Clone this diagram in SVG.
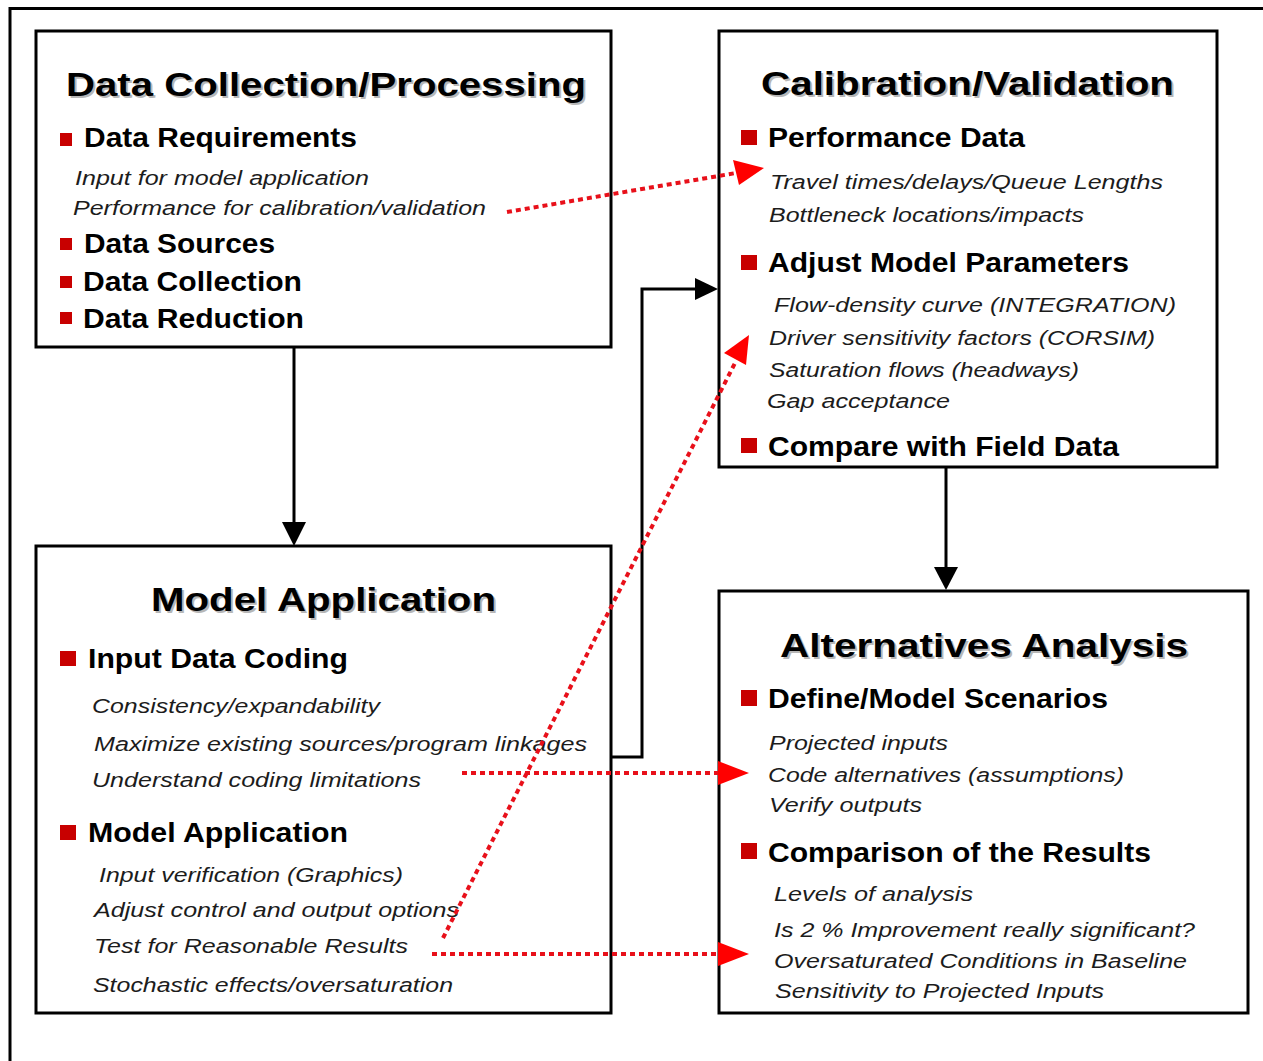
<svg xmlns="http://www.w3.org/2000/svg" width="1263" height="1061" viewBox="0 0 1263 1061">
  <style>
    text { font-family: "Liberation Sans", Arial, sans-serif; }
    .title { font-size: 33px; font-weight: bold; fill: #000; }
    .shadow { font-size: 33px; font-weight: bold; fill: #9a9a9a; opacity: 0.7; }
    .head { font-size: 27px; font-weight: bold; fill: #000; }
    .item { font-size: 20px; font-style: italic; fill: #1c1c1c; }
    .box { fill: #fff; stroke: #000; stroke-width: 3; }
    .bul { fill: #c80000; }
    .flow { fill: none; stroke: #000; stroke-width: 3; }
    .dot { fill: none; stroke: #e8101a; stroke-width: 4; stroke-dasharray: 5 4; }
    .tip { fill: #ff0000; }
    .btip { fill: #000; }
  </style>

  <rect width="1263" height="1061" fill="#fff"/>

  <!-- outer frame (runs off the right and bottom edges) -->
  <path d="M10 1061 V8.5 H1263" fill="none" stroke="#000" stroke-width="3"/>

  <g id="data-collection">
    <rect class="box" x="36" y="31" width="575" height="316"/>
    <text class="shadow" x="68" y="98" textLength="520" lengthAdjust="spacingAndGlyphs">Data Collection/Processing</text>
    <text class="title" x="66" y="96" textLength="520" lengthAdjust="spacingAndGlyphs">Data Collection/Processing</text>
    <rect class="bul" x="60" y="133" width="12" height="13"/>
    <text class="head" x="84" y="147" textLength="273" lengthAdjust="spacingAndGlyphs">Data Requirements</text>
    <text class="item" x="75" y="185" textLength="294" lengthAdjust="spacingAndGlyphs">Input for model application</text>
    <text class="item" x="73" y="215" textLength="413" lengthAdjust="spacingAndGlyphs">Performance for calibration/validation</text>
    <rect class="bul" x="60" y="238" width="12" height="12"/>
    <text class="head" x="84" y="253" textLength="191" lengthAdjust="spacingAndGlyphs">Data Sources</text>
    <rect class="bul" x="60" y="276" width="12" height="12"/>
    <text class="head" x="83" y="291" textLength="219" lengthAdjust="spacingAndGlyphs">Data Collection</text>
    <rect class="bul" x="60" y="312" width="12" height="12"/>
    <text class="head" x="83" y="328" textLength="221" lengthAdjust="spacingAndGlyphs">Data Reduction</text>
  </g>

  <g id="calibration-validation">
    <rect class="box" x="719" y="31" width="498" height="436"/>
    <text class="shadow" x="763" y="97" textLength="413" lengthAdjust="spacingAndGlyphs">Calibration/Validation</text>
    <text class="title" x="761" y="95" textLength="413" lengthAdjust="spacingAndGlyphs">Calibration/Validation</text>
    <rect class="bul" x="741" y="130" width="16" height="15"/>
    <text class="head" x="768" y="147" textLength="257" lengthAdjust="spacingAndGlyphs">Performance Data</text>
    <text class="item" x="770" y="189" textLength="393" lengthAdjust="spacingAndGlyphs">Travel times/delays/Queue Lengths</text>
    <text class="item" x="769" y="222" textLength="315" lengthAdjust="spacingAndGlyphs">Bottleneck locations/impacts</text>
    <rect class="bul" x="741" y="255" width="16" height="15"/>
    <text class="head" x="768" y="272" textLength="361" lengthAdjust="spacingAndGlyphs">Adjust Model Parameters</text>
    <text class="item" x="774" y="312" textLength="402" lengthAdjust="spacingAndGlyphs">Flow-density curve (INTEGRATION)</text>
    <text class="item" x="769" y="345" textLength="386" lengthAdjust="spacingAndGlyphs">Driver sensitivity factors (CORSIM)</text>
    <text class="item" x="769" y="377" textLength="310" lengthAdjust="spacingAndGlyphs">Saturation flows (headways)</text>
    <text class="item" x="767" y="408" textLength="183" lengthAdjust="spacingAndGlyphs">Gap acceptance</text>
    <rect class="bul" x="741" y="438" width="16" height="15"/>
    <text class="head" x="768" y="456" textLength="351" lengthAdjust="spacingAndGlyphs">Compare with Field Data</text>
  </g>

  <g id="model-application">
    <rect class="box" x="36" y="546" width="575" height="467"/>
    <text class="shadow" x="153" y="613" textLength="345" lengthAdjust="spacingAndGlyphs">Model Application</text>
    <text class="title" x="151" y="611" textLength="345" lengthAdjust="spacingAndGlyphs">Model Application</text>
    <rect class="bul" x="60" y="651" width="16" height="15"/>
    <text class="head" x="88" y="668" textLength="260" lengthAdjust="spacingAndGlyphs">Input Data Coding</text>
    <text class="item" x="92" y="713" textLength="288" lengthAdjust="spacingAndGlyphs">Consistency/expandability</text>
    <text class="item" x="94" y="751" textLength="493" lengthAdjust="spacingAndGlyphs">Maximize existing sources/program linkages</text>
    <text class="item" x="92" y="787" textLength="329" lengthAdjust="spacingAndGlyphs">Understand coding limitations</text>
    <rect class="bul" x="60" y="825" width="16" height="15"/>
    <text class="head" x="88" y="842" textLength="260" lengthAdjust="spacingAndGlyphs">Model Application</text>
    <text class="item" x="99" y="882" textLength="304" lengthAdjust="spacingAndGlyphs">Input verification (Graphics)</text>
    <text class="item" x="94" y="917" textLength="365" lengthAdjust="spacingAndGlyphs">Adjust control and output options</text>
    <text class="item" x="94" y="953" textLength="314" lengthAdjust="spacingAndGlyphs">Test for Reasonable Results</text>
    <text class="item" x="93" y="992" textLength="360" lengthAdjust="spacingAndGlyphs">Stochastic effects/oversaturation</text>
  </g>

  <g id="alternatives-analysis">
    <rect class="box" x="719" y="591" width="529" height="422"/>
    <text class="shadow" x="782" y="659" textLength="408" lengthAdjust="spacingAndGlyphs">Alternatives Analysis</text>
    <text class="title" x="780" y="657" textLength="408" lengthAdjust="spacingAndGlyphs">Alternatives Analysis</text>
    <rect class="bul" x="741" y="690" width="16" height="16"/>
    <text class="head" x="768" y="708" textLength="340" lengthAdjust="spacingAndGlyphs">Define/Model Scenarios</text>
    <text class="item" x="769" y="750" textLength="179" lengthAdjust="spacingAndGlyphs">Projected inputs</text>
    <text class="item" x="768" y="782" textLength="356" lengthAdjust="spacingAndGlyphs">Code alternatives (assumptions)</text>
    <text class="item" x="769" y="812" textLength="153" lengthAdjust="spacingAndGlyphs">Verify outputs</text>
    <rect class="bul" x="741" y="843" width="16" height="16"/>
    <text class="head" x="768" y="862" textLength="383" lengthAdjust="spacingAndGlyphs">Comparison of the Results</text>
    <text class="item" x="774" y="901" textLength="199" lengthAdjust="spacingAndGlyphs">Levels of analysis</text>
    <text class="item" x="774" y="937" textLength="421" lengthAdjust="spacingAndGlyphs">Is 2 % Improvement really significant?</text>
    <text class="item" x="774" y="968" textLength="413" lengthAdjust="spacingAndGlyphs">Oversaturated Conditions in Baseline</text>
    <text class="item" x="775" y="998" textLength="329" lengthAdjust="spacingAndGlyphs">Sensitivity to Projected Inputs</text>
  </g>

  <g id="connectors">
    <!-- solid flow arrows -->
    <line class="flow" x1="294" y1="347" x2="294" y2="524"/>
    <polygon class="btip" points="282,522 306,522 294,546"/>
    <line class="flow" x1="946" y1="467" x2="946" y2="569"/>
    <polygon class="btip" points="934,567 958,567 946,590"/>
    <polyline class="flow" points="611,757 642,757 642,289 697,289"/>
    <polygon class="btip" points="695,278 718,289 695,300"/>

    <!-- dotted feedback arrows -->
    <line class="dot" x1="507" y1="212" x2="736" y2="173"/>
    <polygon class="tip" points="733,160 764,168 739,185"/>
    <line class="dot" x1="443" y1="938" x2="736" y2="361"/>
    <polygon class="tip" points="724,353 749,335 746,365"/>
    <line class="dot" x1="462" y1="773" x2="720" y2="773"/>
    <polygon class="tip" points="718,761 749,773 718,785"/>
    <line class="dot" x1="432" y1="954" x2="720" y2="954"/>
    <polygon class="tip" points="718,942 749,954 718,966"/>
  </g>
</svg>
